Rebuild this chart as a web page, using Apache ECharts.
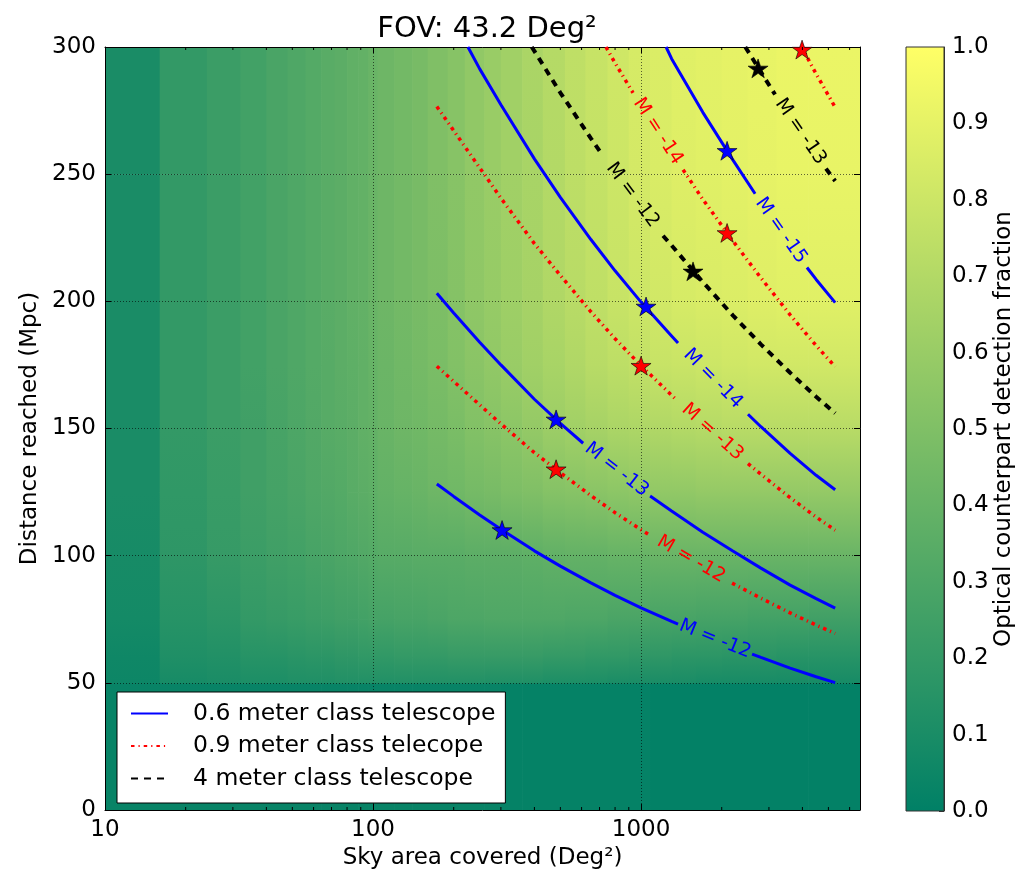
<!DOCTYPE html>
<html>
<head>
<meta charset="utf-8">
<script src="https://cdn.jsdelivr.net/npm/echarts@6/dist/echarts.min.js"></script>
<style>
  html, body { margin: 0; padding: 0; background: #fff; }
  #chart { width: 1031px; height: 875px; }
</style>
</head>
<body>
<div id="chart"></div>
<script>
// ---- detection-fraction map: column edges in sky area (deg²), row nodes in distance (Mpc)
const areaEdges = [10,16,24,32,40,48,56,64,72,80,88,96,104,120,140,160,190,220,260,300,360,430,520,620,750,900,1080,1300,1600,2000,2500,3200,4200,6560];
const distNodes = [50,60,75,100,125,150,175,200,250,300];

// fraction per column at each distance node
const frac050 = [0.05,0.09,0.10,0.11,0.11,0.12,0.12,0.12,0.13,0.13,0.13,0.13,0.13,0.13,0.13,0.13,0.13,0.13,0.12,0.12,0.12,0.11,0.11,0.11,0.10,0.10,0.10,0.10,0.09,0.09,0.09,0.09,0.09];
const frac060 = [0.06,0.12,0.13,0.15,0.15,0.16,0.17,0.17,0.18,0.18,0.19,0.19,0.19,0.20,0.20,0.20,0.21,0.21,0.21,0.21,0.21,0.20,0.20,0.19,0.19,0.18,0.18,0.17,0.17,0.16,0.16,0.15,0.15];
const frac075 = [0.08,0.15,0.17,0.20,0.21,0.22,0.23,0.24,0.25,0.25,0.26,0.27,0.27,0.28,0.28,0.29,0.30,0.30,0.31,0.31,0.31,0.31,0.30,0.30,0.29,0.29,0.28,0.28,0.27,0.27,0.26,0.26,0.25];
const frac100 = [0.09,0.18,0.21,0.23,0.25,0.26,0.28,0.29,0.30,0.31,0.32,0.33,0.34,0.34,0.35,0.35,0.35,0.36,0.36,0.36,0.37,0.38,0.39,0.39,0.40,0.40,0.41,0.41,0.41,0.41,0.41,0.41,0.41];
const frac125 = [0.10,0.19,0.22,0.25,0.27,0.29,0.31,0.32,0.33,0.35,0.36,0.37,0.39,0.40,0.41,0.43,0.44,0.46,0.47,0.49,0.50,0.52,0.53,0.54,0.55,0.56,0.57,0.57,0.58,0.58,0.58,0.58,0.58];
const frac150 = [0.10,0.20,0.23,0.25,0.28,0.30,0.32,0.34,0.35,0.36,0.38,0.39,0.41,0.43,0.44,0.46,0.48,0.51,0.53,0.55,0.58,0.61,0.63,0.65,0.67,0.68,0.69,0.70,0.71,0.72,0.72,0.72,0.72];
const frac175 = [0.10,0.20,0.23,0.26,0.29,0.31,0.33,0.34,0.36,0.37,0.38,0.40,0.42,0.44,0.46,0.48,0.51,0.54,0.57,0.60,0.63,0.66,0.69,0.72,0.74,0.76,0.78,0.79,0.80,0.81,0.82,0.82,0.82];
const frac200 = [0.10,0.20,0.23,0.26,0.29,0.31,0.33,0.35,0.36,0.38,0.39,0.41,0.43,0.45,0.47,0.49,0.52,0.56,0.59,0.62,0.65,0.69,0.72,0.75,0.78,0.80,0.82,0.84,0.85,0.86,0.87,0.88,0.88];
const frac250 = [0.10,0.20,0.23,0.26,0.29,0.31,0.33,0.35,0.36,0.38,0.39,0.41,0.43,0.45,0.47,0.50,0.53,0.57,0.60,0.63,0.66,0.70,0.74,0.77,0.80,0.83,0.85,0.87,0.88,0.89,0.90,0.91,0.91];
const frac300 = [0.10,0.20,0.23,0.26,0.29,0.31,0.33,0.35,0.36,0.38,0.39,0.41,0.43,0.45,0.47,0.50,0.53,0.57,0.60,0.63,0.67,0.71,0.75,0.78,0.81,0.84,0.86,0.88,0.89,0.90,0.91,0.92,0.92];
// flat band below the first distance node
const fracBelow50 = [0.03,0.03,0.03,0.03,0.03,0.03,0.03,0.03,0.03,0.03,0.03,0.03,0.03,0.03,0.03,0.03,0.03,0.03,0.03,0.02,0.02,0.02,0.02,0.02,0.02,0.02,0.01,0.01,0.01,0.01,0.01,0.01,0.01];

// ---- limiting-distance curves: [sky area, distance]; null = gap for the inline label
const small12 = [[173,128.2],[200,123.3],[250,116.0],[300,110.4],[400,101.9],[500,95.9],[650,89.3],[800,84.4],[1000,79.5],[1300,74.2],[1374,73.1],null,[2596,61.3],[2800,60.0],[3600,55.8],[4500,52.4],[5300,50.1]];
const small13 = [[173,203.2],[200,195.4],[250,183.9],[300,175.0],[400,161.5],[500,152.0],[608,144.2],null,[1081,123.5],[1300,117.6],[1700,109.2],[2200,101.8],[2800,95.1],[3600,88.4],[4500,83.1],[5300,79.4]];
const small14 = [[226,300],[250,291.4],[300,277.3],[400,256.0],[500,240.9],[650,224.3],[800,212.0],[1000,199.7],[1300,186.4],[1374,183.6],null,[2506,155.6],[2800,150.7],[3600,140.2],[4500,131.6],[5300,125.9]];
const small15 = [[1240,300],[1300,295.4],[1700,274.3],[2200,255.6],[2664,242.3],null,[4159,213.3],[4500,208.6],[5300,199.5]];

const mid12 = [[173,174.5],[200,168.5],[250,159.3],[300,151.8],[400,140.5],[500,132.6],[650,123.6],[800,116.9],[1000,110.2],[1081,108.0],null,[2186,89.2],[2800,83.3],[3600,77.5],[4500,72.7],[5300,69.4]];
const mid13 = [[173,276.6],[200,267.1],[250,252.5],[300,240.6],[400,222.7],[500,210.2],[650,195.9],[800,185.3],[1000,174.7],[1300,163.1],[1361,161.1],null,[2506,136.2],[2800,132.0],[3600,122.8],[4500,115.2],[5300,110.0]];
const mid14 = [[740,300],[800,293.7],[933,282.0],null,[1435,251.7],[1700,240.1],[2200,223.8],[2800,209.2],[3600,194.7],[4500,182.6],[5300,174.3]];
const mid15 = [[3972,300],[4500,289.4],[5300,276.3]];

const big12 = [[391,300],[400,298.4],[500,282.0],[650,264.1],[715,257.8],null,[1208,225.8],[1300,222.0],[1700,207.6],[2200,194.5],[2800,183.1],[3600,171.9],[4500,162.5],[5300,156.0]];
const big13 = [[2449,300],[2800,290.2],[3162,281.3],null,[4898,252.2],[5300,247.3]];

// ---- chosen survey points
const starsSmall = [[303,110.1],[482,153.6],[1044,198.0],[2094,259.2]];
const starsMid = [[482,134.0],[1000,174.7],[2094,226.9],[3988,299.0]];
const starsBig = [[1563,211.8],[2733,291.6]];

// ---- axes
const areaMin = 10, areaMax = 6560, distMax = 300;
const areaMinorTicks = [20,30,40,50,60,70,80,90,200,300,400,500,600,700,800,900,2000,3000,4000,5000,6000];
const distTicks = [0,50,100,150,200,250,300];
const fracTicks = [0,0.1,0.2,0.3,0.4,0.5,0.6,0.7,0.8,0.9,1.0];

const SMALL = '0.6 meter class telescope';
const MID = '0.9 meter class telecope';
const BIG = '4 meter class telescope';
const FONT = 'DejaVu Sans';

// matplotlib "summer" colour map
function summer(v) {
  const t = Math.max(0, Math.min(1, v));
  return 'rgb(' + Math.round(255 * t) + ',' + Math.round(127.5 + 127.5 * t) + ',102)';
}

const fracRows = [frac050, frac060, frac075, frac100, frac125, frac150, frac175, frac200, frac250, frac300];
const cells = [];
for (let i = 0; i < areaEdges.length - 1; i++) {
  cells.push([areaEdges[i], areaEdges[i + 1], 0, distNodes[0], fracBelow50[i], fracBelow50[i]]);
  for (let j = 0; j < distNodes.length - 1; j++) {
    cells.push([areaEdges[i], areaEdges[i + 1], distNodes[j], distNodes[j + 1], fracRows[j][i], fracRows[j + 1][i]]);
  }
}

const curveDefs = [
  { name: SMALL, pts: small12, label: 'M = -12', color: '#0000ff' },
  { name: SMALL, pts: small13, label: 'M = -13', color: '#0000ff' },
  { name: SMALL, pts: small14, label: 'M = -14', color: '#0000ff' },
  { name: SMALL, pts: small15, label: 'M = -15', color: '#0000ff' },
  { name: MID, pts: mid12, label: 'M = -12', color: '#ff0000' },
  { name: MID, pts: mid13, label: 'M = -13', color: '#ff0000' },
  { name: MID, pts: mid14, label: 'M = -14', color: '#ff0000' },
  { name: MID, pts: mid15, label: null, color: '#ff0000' },
  { name: BIG, pts: big12, label: 'M = -12', color: '#000000' },
  { name: BIG, pts: big13, label: 'M = -13', color: '#000000' }
];
const lineStyles = {};
lineStyles[SMALL] = { color: '#0000ff', width: 3, type: 'solid' };
lineStyles[MID] = { color: '#ff0000', width: 3.5, type: [3.5, 4, 1.2, 4] };
lineStyles[BIG] = { color: '#000000', width: 4, type: [7, 6] };

// inline labels sit in the gap of each curve
const contourLabels = [];
curveDefs.forEach(function (c) {
  const k = c.pts.indexOf(null);
  if (k > 0 && c.label) {
    contourLabels.push({ value: [c.pts[k - 1][0], c.pts[k - 1][1], c.pts[k + 1][0], c.pts[k + 1][1]], text: c.label, color: c.color });
  }
});

const starPath = 'path://M50,0 L61.8,35.1 L98.9,35.1 L69,56.9 L80.4,91.9 L50,70.3 L19.6,91.9 L31,56.9 L1.1,35.1 L38.2,35.1 Z';

const series = [];

// colour map
series.push({
  type: 'custom', name: 'fraction map', xAxisIndex: 0, yAxisIndex: 0, z: -5, silent: true,
  encode: { x: [0, 1], y: [2, 3] },
  data: cells,
  renderItem: function (params, api) {
    const tl = api.coord([api.value(0), api.value(3)]);
    const br = api.coord([api.value(1), api.value(2)]);
    const lastCol = api.value(1) >= areaMax;
    const bottomRow = api.value(2) <= 0;
    return {
      type: 'rect',
      shape: { x: tl[0], y: tl[1], width: br[0] - tl[0] + (lastCol ? 0 : 0.7), height: br[1] - tl[1] + (bottomRow ? 0 : 0.7) },
      style: {
        fill: new echarts.graphic.LinearGradient(0, 0, 0, 1, [
          { offset: 0, color: summer(api.value(5)) },
          { offset: 1, color: summer(api.value(4)) }
        ])
      }
    };
  }
});

// curves
curveDefs.forEach(function (c) {
  series.push({
    type: 'line', name: c.name, xAxisIndex: 0, yAxisIndex: 0, z: 3, silent: true,
    symbol: 'none', showSymbol: false, connectNulls: false,
    data: c.pts.map(function (p) { return p ? p : [null, null]; }),
    lineStyle: lineStyles[c.name],
    itemStyle: { color: lineStyles[c.name].color }
  });
});

// inline curve labels
series.push({
  type: 'custom', name: 'curve labels', xAxisIndex: 0, yAxisIndex: 0, z: 4, silent: true,
  encode: { x: [0, 2], y: [1, 3] },
  data: contourLabels.map(function (l) { return l.value; }),
  renderItem: function (params, api) {
    const p0 = api.coord([api.value(0), api.value(1)]);
    const p1 = api.coord([api.value(2), api.value(3)]);
    const ang = Math.atan2(p1[1] - p0[1], p1[0] - p0[0]);
    const lab = contourLabels[params.dataIndex];
    return {
      type: 'text',
      x: (p0[0] + p1[0]) / 2, y: (p0[1] + p1[1]) / 2,
      rotation: -ang,
      style: { text: lab.text, fill: lab.color, fontSize: 19, fontFamily: FONT, align: 'center', verticalAlign: 'middle' }
    };
  }
});

// stars
[[starsSmall, '#0000ff'], [starsMid, '#ff0000'], [starsBig, '#000000']].forEach(function (s, i) {
  series.push({
    type: 'scatter', name: 'stars ' + i, xAxisIndex: 0, yAxisIndex: 0, z: 5, silent: true,
    symbol: starPath, symbolSize: 20, symbolKeepAspect: true,
    itemStyle: { color: s[1], borderColor: '#000', borderWidth: 0.6, opacity: 1 },
    data: s[0]
  });
});

// minor ticks of the log axis (bottom and top)
series.push({
  type: 'custom', name: 'minor ticks', xAxisIndex: 0, yAxisIndex: 0, z: 6, silent: true,
  encode: { x: 0, y: 1 },
  data: areaMinorTicks.map(function (v) { return [v, 0]; }),
  renderItem: function (params, api) {
    const b = api.coord([api.value(0), 0]);
    const t = api.coord([api.value(0), distMax]);
    return {
      type: 'group',
      children: [
        { type: 'line', shape: { x1: b[0], y1: b[1], x2: b[0], y2: b[1] - 3 }, style: { stroke: '#000', lineWidth: 1 } },
        { type: 'line', shape: { x1: t[0], y1: t[1], x2: t[0], y2: t[1] + 3 }, style: { stroke: '#000', lineWidth: 1 } }
      ]
    };
  }
});

// colour bar
series.push({
  type: 'custom', name: 'colour bar', xAxisIndex: 2, yAxisIndex: 2, z: 2, silent: true,
  encode: { x: 0, y: 1 },
  data: [[0, 0, 1, 1]],
  renderItem: function (params, api) {
    const tl = api.coord([0, fracTicks[fracTicks.length - 1]]);
    const br = api.coord([1, fracTicks[0]]);
    return {
      type: 'rect',
      shape: { x: tl[0], y: tl[1], width: br[0] - tl[0], height: br[1] - tl[1] },
      style: {
        fill: new echarts.graphic.LinearGradient(0, 0, 0, 1, [
          { offset: 0, color: summer(1) },
          { offset: 1, color: summer(0) }
        ]),
        stroke: '#333', lineWidth: 1
      }
    };
  }
});

const labelText = { fontSize: 23, color: '#000', fontFamily: FONT };
const gridDots = { show: true, lineStyle: { color: '#000', width: 0.8, type: [1, 2], opacity: 0.75 } };

const option = {
  animation: false,
  backgroundColor: '#fff',
  title: {
    text: 'FOV: 43.2 Deg²', left: 482, top: 10, textAlign: 'center',
    textStyle: { fontSize: 29, fontWeight: 'normal', fontFamily: FONT, color: '#000' }
  },
  legend: {
    data: [SMALL, MID, BIG],
    orient: 'vertical', left: 117, top: 692,
    padding: [9, 10, 12, 13], itemGap: 7.5, itemWidth: 37, itemHeight: 14,
    backgroundColor: '#fff', borderColor: '#000', borderWidth: 1, borderRadius: 0,
    selectedMode: false,
    itemStyle: { color: 'rgba(0,0,0,0)', borderWidth: 0 },
    textStyle: { fontSize: 23.5, fontFamily: FONT, color: '#000', lineHeight: 25, padding: [0, 0, 0, 20] }
  },
  grid: [
    { left: 105, right: 171, top: 47, bottom: 65 },
    { left: 906, right: 87, top: 47, bottom: 64 }
  ],
  xAxis: [
    {
      type: 'log', logBase: 10, min: areaMin, max: areaMax, gridIndex: 0, position: 'bottom',
      axisLine: { show: true, onZero: false, lineStyle: { color: '#000', width: 1 } },
      axisTick: { show: true, inside: true, length: 6, lineStyle: { color: '#000' } },
      axisLabel: Object.assign({ margin: 9, showMaxLabel: false, formatter: function (v) { return String(Math.round(v)); } }, labelText),
      splitLine: gridDots,
      name: 'Sky area covered (Deg²)', nameLocation: 'middle', nameGap: 34,
      nameTextStyle: labelText
    },
    {
      type: 'log', logBase: 10, min: areaMin, max: areaMax, gridIndex: 0, position: 'top',
      axisLine: { show: true, onZero: false, lineStyle: { color: '#000', width: 1 } },
      axisTick: { show: true, inside: true, length: 6, lineStyle: { color: '#000' } },
      axisLabel: { show: false }, splitLine: { show: false }
    },
    { type: 'value', gridIndex: 1, min: 0, max: 1, show: false }
  ],
  yAxis: [
    {
      type: 'value', min: distTicks[0], max: distMax, interval: 50, gridIndex: 0, position: 'left',
      axisLine: { show: true, onZero: false, lineStyle: { color: '#000', width: 1 } },
      axisTick: { show: true, inside: true, length: 6, lineStyle: { color: '#000' } },
      axisLabel: Object.assign({ margin: 9 }, labelText),
      splitLine: gridDots,
      name: 'Distance reached (Mpc)', nameLocation: 'middle', nameGap: 56, nameRotate: 90,
      nameTextStyle: labelText
    },
    {
      type: 'value', min: distTicks[0], max: distMax, interval: 50, gridIndex: 0, position: 'right',
      axisLine: { show: true, onZero: false, lineStyle: { color: '#000', width: 1 } },
      axisTick: { show: true, inside: true, length: 6, lineStyle: { color: '#000' } },
      axisLabel: { show: false }, splitLine: { show: false }
    },
    {
      type: 'value', min: fracTicks[0], max: fracTicks[fracTicks.length - 1], interval: 0.1, gridIndex: 1, position: 'right',
      axisLine: { show: true, onZero: false, lineStyle: { color: '#333', width: 1 } },
      axisTick: { show: true, inside: true, length: 5, lineStyle: { color: '#333' } },
      axisLabel: Object.assign({ margin: 8, formatter: function (v) { return v.toFixed(1); } }, labelText),
      splitLine: { show: false },
      name: 'Optical counterpart detection fraction', nameLocation: 'middle', nameGap: 47, nameRotate: 90,
      nameTextStyle: labelText
    }
  ],
  series: series
};

const chart = echarts.init(document.getElementById('chart'), null, { renderer: 'canvas' });
chart.setOption(option);
</script>
</body>
</html>
